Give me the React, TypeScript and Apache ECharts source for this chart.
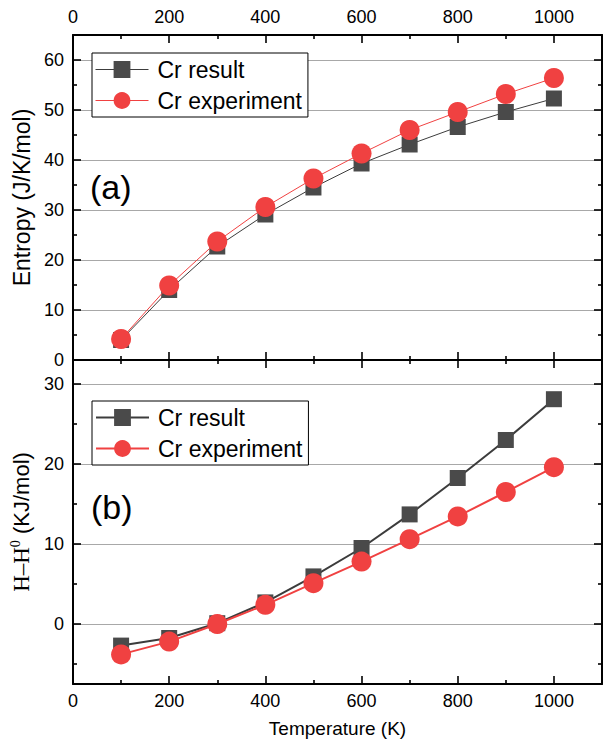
import React, { useEffect, useRef } from "react";
import * as echarts from "echarts";

const temps = [100, 200, 300, 400, 500, 600, 700, 800, 900, 1000];
const entropyResult = [4.0, 14.0, 22.7, 29.1, 34.5, 39.3, 43.1, 46.6, 49.6, 52.3];
const entropyExp = [4.2, 14.9, 23.7, 30.6, 36.3, 41.3, 46.0, 49.6, 53.2, 56.4];
const enthalpyResult = [-2.7, -1.75, 0.1, 2.7, 5.95, 9.5, 13.7, 18.25, 23.0, 28.1];
const enthalpyExp = [-3.8, -2.2, 0.0, 2.4, 5.1, 7.8, 10.6, 13.45, 16.5, 19.6];

const xMajor = [0, 200, 400, 600, 800, 1000];
const xMinor = [100, 300, 500, 700, 900];
const sMajor = [0, 10, 20, 30, 40, 50, 60];
const sMinor = [5, 15, 25, 35, 45, 55];
const hMajor = [0, 10, 20, 30];
const hMinor = [-5, 5, 15, 25];

const seriesNames = ["Cr result", "Cr experiment"];

const FONT = "'Liberation Sans', Arial, sans-serif";
const GRAY = "#4a4a4a";
const RED = "#f04141";

type AxOpt = {
  gridIndex: number;
  position: string;
  min: number;
  max: number;
  ticks: number[];
  tickLen: number;
  labels?: boolean;
  split?: boolean;
  line?: boolean;
  labelMargin?: number;
  extra?: any;
};

function mkAxis(o: AxOpt) {
  return {
    type: "value",
    gridIndex: o.gridIndex,
    position: o.position,
    min: o.min,
    max: o.max,
    axisLine: { show: o.line !== false, onZero: false, lineStyle: { color: "#000", width: 2 } },
    axisTick: {
      show: true,
      inside: true,
      length: o.tickLen,
      customValues: o.ticks,
      lineStyle: { color: "#000", width: 1.6 },
    },
    axisLabel: o.labels
      ? {
          show: true,
          customValues: o.ticks,
          fontSize: 18,
          color: "#000",
          fontFamily: FONT,
          margin: o.labelMargin ?? 8,
          formatter: (v: number) => String(v),
        }
      : { show: false },
    splitLine: { show: !!o.split, lineStyle: { color: "#a8a8a8", width: 1 } },
    ...(o.extra || {}),
  };
}

function pairs(vals: number[]) {
  return temps.map((t, i) => [t, vals[i]]);
}

export default function App() {
  const ref = useRef<HTMLDivElement>(null);
  useEffect(() => {
    document.body.style.margin = "0";
    if (!ref.current) return;
    const chart = echarts.init(ref.current, undefined, { renderer: "svg" });
    const XMIN = 0;
    const XMAX = 1100;
    const SMIN = 0;
    const SMAX = 65;
    const HMIN = -7.5;
    const HMAX = 33;

    const xAxes = [
      mkAxis({ gridIndex: 0, position: "bottom", min: XMIN, max: XMAX, ticks: xMajor, tickLen: 8 }),
      mkAxis({ gridIndex: 0, position: "bottom", min: XMIN, max: XMAX, ticks: xMinor, tickLen: 4, line: false }),
      mkAxis({ gridIndex: 0, position: "top", min: XMIN, max: XMAX, ticks: xMajor, tickLen: 8, labels: true, labelMargin: 9 }),
      mkAxis({ gridIndex: 0, position: "top", min: XMIN, max: XMAX, ticks: xMinor, tickLen: 4, line: false }),
      mkAxis({
        gridIndex: 1,
        position: "bottom",
        min: XMIN,
        max: XMAX,
        ticks: xMajor,
        tickLen: 8,
        labels: true,
        labelMargin: 8,
        extra: {
          name: "Temperature (K)",
          nameLocation: "middle",
          nameGap: 35,
          nameTextStyle: { fontSize: 19, color: "#000", fontFamily: FONT },
        },
      }),
      mkAxis({ gridIndex: 1, position: "bottom", min: XMIN, max: XMAX, ticks: xMinor, tickLen: 4, line: false }),
      mkAxis({ gridIndex: 1, position: "top", min: XMIN, max: XMAX, ticks: xMajor, tickLen: 8 }),
      mkAxis({ gridIndex: 1, position: "top", min: XMIN, max: XMAX, ticks: xMinor, tickLen: 4, line: false }),
    ];

    const yAxes = [
      mkAxis({
        gridIndex: 0,
        position: "left",
        min: SMIN,
        max: SMAX,
        ticks: sMajor,
        tickLen: 8,
        labels: true,
        split: true,
        labelMargin: 9,
        extra: {
          name: "Entropy (J/K/mol)",
          nameLocation: "middle",
          nameGap: 36,
          nameTextStyle: { fontSize: 23, color: "#000", fontFamily: FONT },
        },
      }),
      mkAxis({ gridIndex: 0, position: "left", min: SMIN, max: SMAX, ticks: sMinor, tickLen: 4, line: false }),
      mkAxis({ gridIndex: 0, position: "right", min: SMIN, max: SMAX, ticks: sMajor, tickLen: 8 }),
      mkAxis({ gridIndex: 0, position: "right", min: SMIN, max: SMAX, ticks: sMinor, tickLen: 4, line: false }),
      mkAxis({
        gridIndex: 1,
        position: "left",
        min: HMIN,
        max: HMAX,
        ticks: hMajor,
        tickLen: 8,
        labels: true,
        split: true,
        labelMargin: 9,
        extra: {
          name: "{h|H–H}{sup|0}{n| (KJ/mol)}",
          nameLocation: "middle",
          nameGap: 36,
          nameTextStyle: {
            fontSize: 22,
            color: "#000",
            fontFamily: FONT,
            rich: {
              h: { fontSize: 23, fontFamily: "'Liberation Serif', 'Times New Roman', serif", color: "#000" },
              sup: {
                fontSize: 14,
                fontFamily: "'Liberation Serif', 'Times New Roman', serif",
                color: "#000",
                verticalAlign: "top",
                padding: [0, 0, 12, 0],
              },
              n: { fontSize: 22, fontFamily: FONT, color: "#000" },
            },
          },
        },
      }),
      mkAxis({ gridIndex: 1, position: "left", min: HMIN, max: HMAX, ticks: hMinor, tickLen: 4, line: false }),
      mkAxis({ gridIndex: 1, position: "right", min: HMIN, max: HMAX, ticks: hMajor, tickLen: 8 }),
      mkAxis({ gridIndex: 1, position: "right", min: HMIN, max: HMAX, ticks: hMinor, tickLen: 4, line: false }),
    ];

    const mkSeries = (name: string, vals: number[], grid: number, isExp: boolean, lw: number) => ({
      type: "line",
      name,
      xAxisIndex: grid === 0 ? 0 : 4,
      yAxisIndex: grid === 0 ? 0 : 4,
      data: pairs(vals),
      symbol: isExp ? "circle" : "rect",
      symbolSize: isExp ? 20 : 16,
      itemStyle: { color: isExp ? RED : GRAY },
      lineStyle: { color: isExp ? RED : "#3c3c3c", width: lw },
      z: isExp ? 3 : 2,
    });

    const legendBase = (top: number, lw: number) => ({
      orient: "vertical",
      left: 92,
      top,
      itemWidth: 53,
      itemHeight: 21,
      itemGap: 8,
      padding: [5, 6, 5, 3],
      borderColor: "#000",
      borderWidth: 1,
      backgroundColor: "#fff",
      textStyle: { fontSize: 23, lineHeight: 22, color: "#000", fontFamily: FONT, padding: [0, 0, 0, 4] },
      data: [
        { name: seriesNames[0], itemStyle: { color: GRAY }, lineStyle: { color: "#3c3c3c", width: lw } },
        { name: seriesNames[1], itemStyle: { color: RED }, lineStyle: { color: RED, width: lw } },
      ],
    });

    chart.setOption({
      animation: false,
      backgroundColor: "#fff",
      textStyle: { fontFamily: FONT },
      grid: [
        { left: 73, right: 8, top: 35, height: 325 },
        { left: 73, right: 8, top: 360, bottom: 58 },
      ],
      xAxis: xAxes,
      yAxis: yAxes,
      legend: [legendBase(53, 1), legendBase(401, 2)],
      graphic: [
        {
          type: "text",
          left: 90,
          top: 170,
          style: { text: "(a)", fontSize: 34, fontFamily: FONT, fill: "#000" },
        },
        {
          type: "text",
          left: 91,
          top: 490,
          style: { text: "(b)", fontSize: 34, fontFamily: FONT, fill: "#000" },
        },
      ],
      series: [
        mkSeries(seriesNames[0], entropyResult, 0, false, 1),
        mkSeries(seriesNames[1], entropyExp, 0, true, 1),
        mkSeries(seriesNames[0], enthalpyResult, 1, false, 2),
        mkSeries(seriesNames[1], enthalpyExp, 1, true, 2),
      ],
    });
    return () => chart.dispose();
  }, []);
  return <div ref={ref} style={{ width: 610, height: 742 }} />;
}
